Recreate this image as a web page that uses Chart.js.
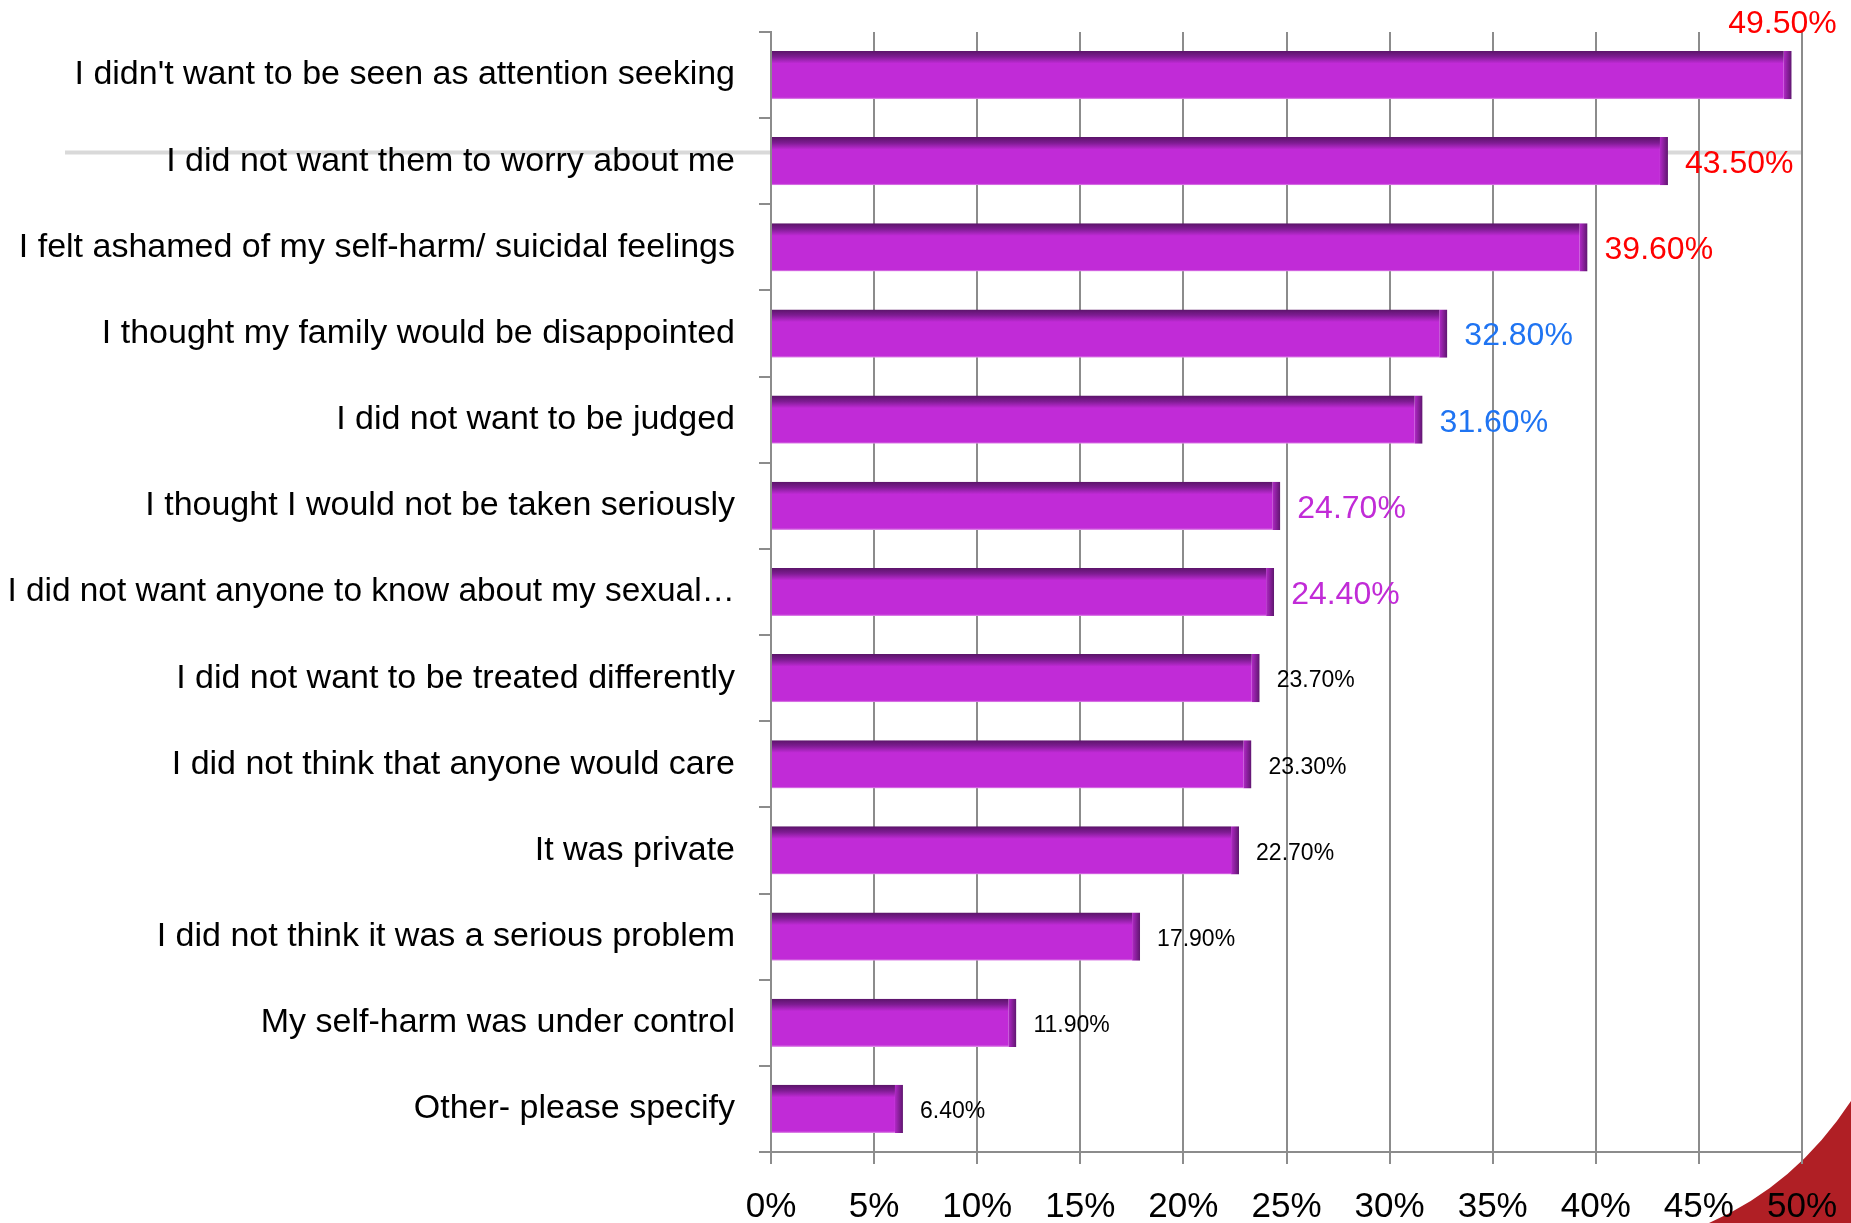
<!DOCTYPE html>
<html lang="en">
<head>
    <meta charset="UTF-8">
    <title>Reasons for not telling</title>
    <script src="https://cdn.jsdelivr.net/npm/chart.js"></script>
    <style>
        body {
            margin: 0;
            background: #ffffff;
        }
        .container {
            width: 1851px;
            height: 1223px;
            position: relative;
        }
    </style>
</head>
<body>
    <div class="container">
        <canvas id="reasonsChart"></canvas>
    </div>

    <script>
        const reasons = [
            "I didn't want to be seen as attention seeking",
            "I did not want them to worry about me",
            "I felt ashamed of my self-harm/ suicidal feelings",
            "I thought my family would be disappointed",
            "I did not want to be judged",
            "I thought I would not be taken seriously",
            "I did not want anyone to know about my sexual\u2026",
            "I did not want to be treated differently",
            "I did not think that anyone would care",
            "It was private",
            "I did not think it was a serious problem",
            "My self-harm was under control",
            "Other- please specify"
        ];
        const percentages = [49.5, 43.5, 39.6, 32.8, 31.6, 24.7, 24.4, 23.7, 23.3, 22.7, 17.9, 11.9, 6.4];
        const xTicks = [0, 5, 10, 15, 20, 25, 30, 35, 40, 45, 50];

        // label look, one per bar
        const labelColors = ['#ff0000', '#ff0000', '#ff0000', '#1f74f2', '#1f74f2', '#c12bd7', '#c12bd7',
            '#000000', '#000000', '#000000', '#000000', '#000000', '#000000'];
        const labelBig = [true, true, true, true, true, true, true, false, false, false, false, false, false];

        const FONT = "'Liberation Sans', Arial, sans-serif";
        const BAR = '#c12bd7';
        const GRID = '#8c8c8c';

        // shrink a category label a touch if it would run off the left edge
        const measurer = document.createElement('canvas').getContext('2d');
        function labelSize(text) {
            measurer.font = '34px ' + FONT;
            const w = measurer.measureText(text).width;
            return w > 728 ? 34 * 728 / w : 34;
        }

        function barFill(ctx) {
            const chart = ctx.chart;
            const y = chart.scales.y;
            if (!chart.chartArea || !y) return BAR;
            const c = y.getPixelForValue(ctx.dataIndex);
            const half = (y.getPixelForValue(1) - y.getPixelForValue(0)) * 0.28;
            const g = chart.ctx.createLinearGradient(0, c - half, 0, c + half);
            g.addColorStop(0, '#5a1468');
            g.addColorStop(0.12, '#7e1c92');
            g.addColorStop(0.26, BAR);
            g.addColorStop(0.96, BAR);
            g.addColorStop(1, '#e39bea');
            return g;
        }

        function barEdge(ctx) {
            const chart = ctx.chart;
            const x = chart.scales.x;
            if (!chart.chartArea || !x) return '#6b1a7c';
            const end = x.getPixelForValue(ctx.raw);
            const g = chart.ctx.createLinearGradient(end - 8, 0, end, 0);
            g.addColorStop(0, '#b128c6');
            g.addColorStop(1, '#5e166e');
            return g;
        }

        // slide decorations: faint grey rule and red swoosh in the corner
        const backdrop = {
            id: 'backdrop',
            beforeDraw(chart) {
                const c = chart.ctx;
                const y = chart.scales.y;
                const step = y.getPixelForValue(1) - y.getPixelForValue(0);
                const ry = y.getPixelForValue(1) - step * 0.1;
                c.save();
                c.strokeStyle = '#d9d9d9';
                c.lineWidth = 4;
                c.beginPath();
                c.moveTo(65, ry);
                c.lineTo(chart.chartArea.right, ry);
                c.stroke();

                const w = chart.width, h = chart.height;
                c.fillStyle = '#b01f25';
                c.beginPath();
                c.moveTo(w, h - 122);
                c.quadraticCurveTo(w - 55, h - 38, w - 142, h);
                c.lineTo(w, h);
                c.closePath();
                c.fill();
                c.restore();
            }
        };

        const valueLabels = {
            id: 'valueLabels',
            afterDatasetsDraw(chart) {
                const c = chart.ctx;
                const meta = chart.getDatasetMeta(0);
                c.save();
                meta.data.forEach(function (bar, i) {
                    const text = percentages[i].toFixed(2) + '%';
                    c.font = (labelBig[i] ? 32 : 23) + 'px ' + FONT;
                    c.fillStyle = labelColors[i];
                    const tw = c.measureText(text).width;
                    if (bar.x + 17 + tw > chart.width) {
                        c.textAlign = 'right';
                        c.textBaseline = 'alphabetic';
                        c.fillText(text, bar.x + 45, bar.y - bar.height / 2 - 18);
                    } else {
                        c.textAlign = 'left';
                        c.textBaseline = 'middle';
                        c.fillText(text, bar.x + 17, bar.y + 3);
                    }
                });
                c.restore();
            }
        };

        const ctx = document.getElementById('reasonsChart').getContext('2d');
        const chart = new Chart(ctx, {
            type: 'bar',
            data: {
                labels: reasons,
                datasets: [{
                    data: percentages,
                    backgroundColor: barFill,
                    borderColor: barEdge,
                    borderWidth: { top: 0, right: 8, bottom: 0, left: 0 },
                    borderSkipped: false,
                    categoryPercentage: 1,
                    barPercentage: 0.56
                }]
            },
            options: {
                indexAxis: 'y',
                responsive: true,
                maintainAspectRatio: false,
                animation: false,
                layout: { padding: { top: 32, right: 49, left: 0, bottom: 0 } },
                plugins: {
                    legend: { display: false },
                    tooltip: { enabled: false }
                },
                scales: {
                    x: {
                        min: 0,
                        max: 50,
                        afterBuildTicks(scale) {
                            scale.ticks = xTicks.map(v => ({ value: v }));
                        },
                        afterFit(scale) {
                            scale.height = 71;
                            scale.paddingLeft = 0;
                            scale.paddingRight = 0;
                        },
                        ticks: {
                            callback: v => v + '%',
                            color: '#000000',
                            font: { family: FONT, size: 35 },
                            padding: 22,
                            maxRotation: 0
                        },
                        grid: { color: GRID, lineWidth: 2, tickLength: 12 },
                        border: { color: GRID, width: 2 }
                    },
                    y: {
                        afterFit(scale) {
                            scale.width = 771;
                            scale.paddingTop = 0;
                            scale.paddingBottom = 0;
                        },
                        ticks: {
                            color: '#000000',
                            font: c => ({ family: FONT, size: labelSize(reasons[c.index] || '') }),
                            padding: 24,
                            autoSkip: false
                        },
                        grid: { drawOnChartArea: false, color: GRID, lineWidth: 2, tickLength: 12, offset: true },
                        border: { color: GRID, width: 2 }
                    }
                }
            },
            plugins: [backdrop, valueLabels]
        });
    </script>
</body>
</html>
